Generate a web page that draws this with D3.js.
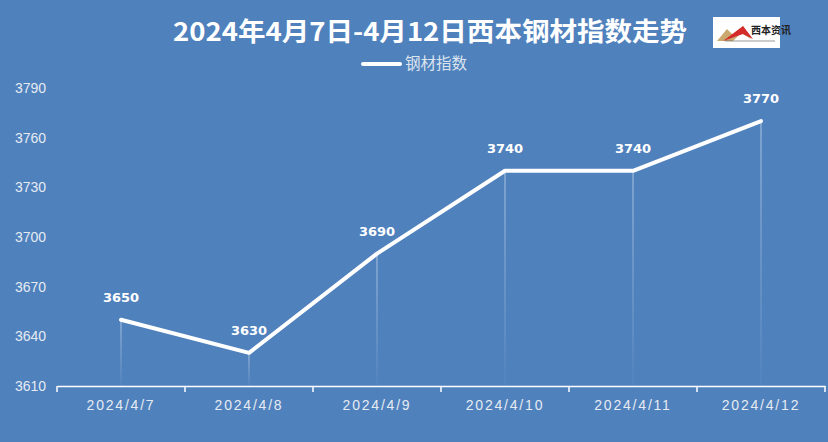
<!DOCTYPE html>
<html><head><meta charset="utf-8">
<script src="https://cdn.jsdelivr.net/npm/d3@7"></script>
<style>body{margin:0;background:#4f81bd;}svg{display:block;}</style>
</head><body>
<script>
const categories = ["2024/4/7","2024/4/8","2024/4/9","2024/4/10","2024/4/11","2024/4/12"];
const values = [3650,3630,3690,3740,3740,3770];
const yTicks = [3610,3640,3670,3700,3730,3760,3790];
const seriesName = "钢材指数";
const title = "2024年4月7日-4月12日西本钢材指数走势";

const W=828,H=442;
const svg=d3.select("body").append("svg").attr("width",W).attr("height",H);
svg.append("rect").attr("width",W).attr("height",H).attr("fill","#4f81bd");

const x=d3.scaleBand().domain(categories).range([57,825]);
const y=d3.scaleLinear().domain([3610,3790]).range([386,88]);

const defs=svg.append("defs");
const g=defs.append("linearGradient").attr("id","drop").attr("x1",0).attr("y1",0).attr("x2",0).attr("y2",1);
g.append("stop").attr("offset","0%").attr("stop-color","#fff").attr("stop-opacity",0.55);
g.append("stop").attr("offset","100%").attr("stop-color","#fff").attr("stop-opacity",0.05);

// title
svg.append("text").attr("x",430).attr("y",41).attr("text-anchor","middle")
 .attr("fill","#fff").attr("font-family","'Noto Sans CJK SC',sans-serif").attr("font-weight","bold")
 .attr("font-size",26).attr("textLength",514).attr("lengthAdjust","spacingAndGlyphs").text(title);

// logo
const logo=svg.append("g").attr("transform","translate(713,17)");
logo.append("rect").attr("width",67).attr("height",31).attr("fill","#fff");
logo.append("path").attr("d","M4,24 L14,12 L22,20 L30,9 L38,22 L28,16 L20,24 Z").attr("fill","#c9a96e");
logo.append("path").attr("d","M10,24 L30,9 L40,22 L30,17 Z").attr("fill","#d42a2a");
logo.append("text").attr("x",38).attr("y",17).attr("font-size",10).attr("font-weight","bold")
 .attr("font-family","'Noto Sans CJK SC',sans-serif").attr("fill","#222").text("西本资讯");
logo.append("line").attr("x1",12).attr("x2",62).attr("y1",24).attr("y2",24).attr("stroke","#555").attr("stroke-width",0.6);

// legend
svg.append("line").attr("x1",363).attr("x2",400).attr("y1",64).attr("y2",64).attr("stroke","#fff").attr("stroke-width",4).attr("stroke-linecap","round");
svg.append("text").attr("x",405).attr("y",69).attr("fill","#dde4ee").attr("font-size",15.5)
 .attr("font-family","'Noto Sans CJK SC',sans-serif").text(seriesName);

// y labels
svg.selectAll(".yl").data(yTicks).join("text").attr("x",15).attr("y",d=>y(d)+5)
 .attr("fill","#e6ebf2").attr("font-size",14).attr("font-family","'Liberation Sans',sans-serif").text(d=>d);

// x axis
const xa=svg.append("g").attr("transform","translate(0,386)").call(d3.axisBottom(x).tickSize(0).tickFormat(""));
xa.select(".domain").attr("stroke","#fff").attr("stroke-width",1.5);
const bounds=categories.map(c=>x(c)).concat([x.range()[1]]);
svg.selectAll(".tk").data(bounds).join("line").attr("x1",d=>d).attr("x2",d=>d).attr("y1",386).attr("y2",392)
 .attr("stroke","#fff").attr("stroke-width",1.5);
svg.selectAll(".xl").data(categories).join("text").attr("x",d=>x(d)+x.bandwidth()/2).attr("y",410)
 .attr("text-anchor","middle").attr("fill","#e6ebf2").attr("font-size",14).attr("letter-spacing","1.8px")
 .attr("font-family","'Liberation Sans',sans-serif").text(d=>d);

// drop lines
const cx=d=>x(d)+x.bandwidth()/2;
svg.selectAll(".dl").data(values).join("rect").attr("x",(d,i)=>cx(categories[i])-0.5).attr("width",1)
 .attr("y",d=>y(d)).attr("height",d=>386-y(d)).attr("fill","url(#drop)");

// line
const line=d3.line().x((d,i)=>cx(categories[i])).y(d=>y(d));
svg.append("path").datum(values).attr("d",line).attr("fill","none").attr("stroke","#fff").attr("stroke-width",4).attr("stroke-linejoin","round").attr("stroke-linecap","round");

// labels
svg.selectAll(".vl").data(values).join("text").attr("x",(d,i)=>cx(categories[i])).attr("y",d=>y(d)-18)
 .attr("text-anchor","middle").attr("fill","#fff").attr("font-weight","bold").attr("font-size",13)
 .attr("font-family","'DejaVu Sans',sans-serif").text(d=>d);
</script>
</body></html>
